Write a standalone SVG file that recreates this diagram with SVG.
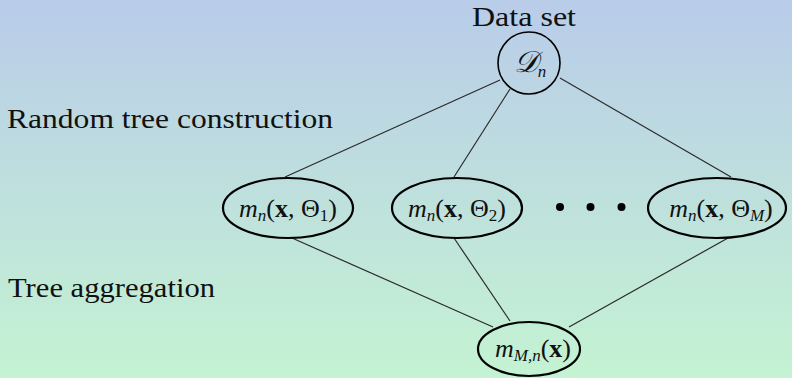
<svg xmlns="http://www.w3.org/2000/svg" width="792" height="378" viewBox="0 0 792 378">
<defs>
<linearGradient id="bg" x1="0" y1="0" x2="0" y2="1">
<stop offset="0" stop-color="#b9cce9"/>
<stop offset="1" stop-color="#c4f3d2"/>
</linearGradient>
</defs>
<style>
.t{font-family:'Liberation Serif',serif;fill:#111;}
.m{font-family:'Liberation Serif',serif;fill:#111;font-size:26px;text-anchor:middle;}
.i{font-style:italic;}
.b{font-weight:bold;}
.s{font-size:17px;}
.node{fill:none;stroke:#000;stroke-width:2.2;}
.circ{fill:none;stroke:#000;stroke-width:1.6;}
.edge{stroke:#2a2a2a;stroke-width:1.2;fill:none;}
</style>
<rect x="0" y="0" width="792" height="378" fill="url(#bg)"/>
<text class="t" font-family="Liberation Serif" x="7" y="128" font-size="28" textLength="326" lengthAdjust="spacingAndGlyphs">Random tree construction</text>
<text class="t" font-family="Liberation Serif" x="8" y="297" font-size="28" textLength="207" lengthAdjust="spacingAndGlyphs">Tree aggregation</text>
<g id="connectors">
<line class="edge" x1="500" y1="80" x2="285" y2="177"/>
<line class="edge" x1="510" y1="89" x2="454" y2="177"/>
<line class="edge" x1="560" y1="78" x2="731" y2="177"/>
<line class="edge" x1="292" y1="238" x2="493" y2="327"/>
<line class="edge" x1="454" y1="238" x2="510" y2="321"/>
<line class="edge" x1="728" y1="238" x2="569" y2="327"/>
</g>
<g id="dataset">
<text class="t" font-family="Liberation Serif" x="472" y="26" font-size="28" textLength="104" lengthAdjust="spacingAndGlyphs">Data set</text>
<circle class="circ" cx="529" cy="63" r="31"/>
<text class="m" x="530" y="72"><tspan class="i" font-size="30">𝒟</tspan><tspan class="i s" dy="5">n</tspan></text>
</g>
<g id="tree1">
<ellipse class="node" cx="288" cy="208" rx="65" ry="30"/>
<text class="m" x="288" y="217"><tspan class="i">m</tspan><tspan class="i s" dy="4">n</tspan><tspan dy="-4">(</tspan><tspan class="b">x</tspan>, Θ<tspan class="s" dy="4">1</tspan><tspan dy="-4">)</tspan></text>
</g>
<g id="tree2">
<ellipse class="node" cx="457" cy="208" rx="65" ry="30"/>
<text class="m" x="457" y="217"><tspan class="i">m</tspan><tspan class="i s" dy="4">n</tspan><tspan dy="-4">(</tspan><tspan class="b">x</tspan>, Θ<tspan class="s" dy="4">2</tspan><tspan dy="-4">)</tspan></text>
</g>
<g id="dots">
<circle cx="560" cy="207" r="4" fill="#000"/>
<circle cx="590.5" cy="207" r="4" fill="#000"/>
<circle cx="621.5" cy="207" r="4" fill="#000"/>
</g>
<g id="treeM">
<ellipse class="node" cx="717" cy="208" rx="69" ry="30"/>
<text class="m" x="721" y="217"><tspan class="i">m</tspan><tspan class="i s" dy="4">n</tspan><tspan dy="-4">(</tspan><tspan class="b">x</tspan>, Θ<tspan class="i s" dy="4">M</tspan><tspan dy="-4">)</tspan></text>
</g>
<g id="aggregate">
<ellipse class="node" cx="529" cy="349" rx="51" ry="27"/>
<text class="m" x="533" y="357"><tspan class="i">m</tspan><tspan class="i s" dy="4">M,n</tspan><tspan dy="-4">(</tspan><tspan class="b">x</tspan>)</text>
</g>
</svg>
